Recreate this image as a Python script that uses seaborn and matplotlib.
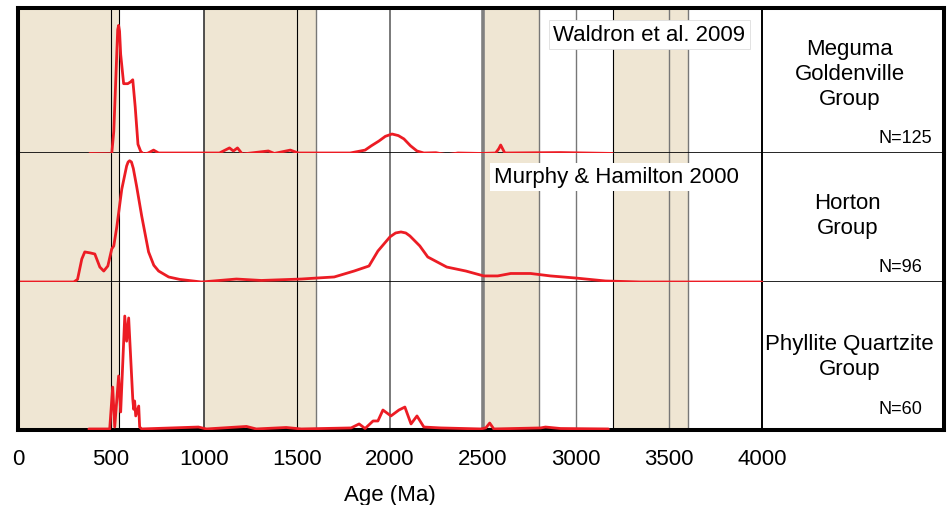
import matplotlib
matplotlib.use("Agg")
import matplotlib.pyplot as plt
import seaborn as sns
import pandas as pd

# relative probability curves (age in Ma, height as fraction of the panel)
meguma_age = [386, 504, 515, 527, 536, 541, 546, 552, 568, 590, 605, 617, 630, 645,
              660, 676, 700, 729, 756, 1083, 1137, 1158, 1180, 1206, 1346, 1378,
              1464, 1507, 1786, 1866, 1900, 1941, 1975, 2011, 2045, 2075, 2110,
              2145, 2182, 2247, 2306, 2365, 2488, 2568, 2585, 2595, 2605, 2617,
              2917, 3196]
meguma_prob = [-0.003, -0.005, 0.15, 0.55, 0.85, 0.88, 0.84, 0.68, 0.478, 0.478,
               0.49, 0.505, 0.32, 0.06, 0.01, -0.007, 0.0, 0.02, 0.0, 0.0, 0.035,
               0.014, 0.035, -0.007, 0.014, -0.003, 0.02, 0.0, 0.0, 0.02, 0.05,
               0.083, 0.115, 0.131, 0.12, 0.097, 0.05, 0.014, 0.0, 0.002, -0.012,
               0.0, -0.003, 0.0, 0.03, 0.055, 0.03, 0.0, 0.003, -0.003]

horton_age = [0, 300, 320, 343, 359, 390, 413, 440, 461, 483, 504, 515, 531, 558,
              584, 592, 600, 610, 620, 638, 665, 702, 730, 756, 810, 870, 987,
              1174, 1308, 1523, 1609, 1700, 1807, 1887, 1935, 2000, 2030, 2059,
              2085, 2107, 2160, 2203, 2305, 2408, 2504, 2579, 2649, 2756, 2863,
              2997, 3158, 3346, 4000]
horton_prob = [0.0, 0.0, 0.02, 0.178, 0.233, 0.225, 0.217, 0.116, 0.085, 0.124,
               0.256, 0.28, 0.426, 0.72, 0.899, 0.93, 0.94, 0.93, 0.88, 0.74,
               0.512, 0.233, 0.13, 0.085, 0.039, 0.02, 0.0, 0.023, 0.012, 0.023,
               0.031, 0.039, 0.085, 0.124, 0.24, 0.35, 0.38, 0.388, 0.38, 0.357,
               0.28, 0.194, 0.116, 0.085, 0.047, 0.047, 0.066, 0.066, 0.047,
               0.031, 0.008, 0.0, 0.0]

phyllite_age = [381, 493, 509, 520, 541, 552, 574, 584, 595, 617, 622, 627, 633,
                649, 654, 665, 970, 1013, 1228, 1281, 1442, 1523, 1791, 1834, 1866,
                1909, 1935, 1962, 2005, 2048, 2080, 2113, 2145, 2182, 2273, 2488,
                2515, 2536, 2558, 2810, 2836, 2917, 3174]
phyllite_prob = [0.007, 0.007, 0.29, 0.02, 0.365, 0.122, 0.77, 0.60, 0.757, 0.21,
                 0.14, 0.196, 0.095, 0.162, 0.02, 0.007, 0.02, 0.007, 0.024, 0.007,
                 0.017, 0.007, 0.014, 0.041, 0.01, 0.061, 0.061, 0.135, 0.095,
                 0.135, 0.155, 0.041, 0.095, 0.02, 0.014, 0.007, 0.014, 0.047,
                 0.007, 0.014, 0.02, 0.01, 0.007]

groups = ["Meguma\nGoldenville\nGroup", "Horton\nGroup", "Phyllite Quartzite\nGroup"]
counts = ["N=125", "N=96", "N=60"]

# shaded time intervals and boundary lines (Ma)
bands = [(0, 541), (1000, 1600), (2500, 2800), (3200, 3600)]
boundaries = [500, 541, 1000, 1500, 1600, 2000, 2500, 2800, 3000, 3200, 3500, 3600]
tick_ages = [0, 500, 1000, 1500, 2000, 2500, 3000, 3500, 4000]

sns.set_style("white")
plt.rcParams['font.family'] = ['Liberation Sans', 'DejaVu Sans']
plt.rcParams['text.color'] = 'black'
plt.rcParams['xtick.color'] = 'black'
plt.rcParams['axes.labelcolor'] = 'black'

fig = plt.figure(figsize=(9.51, 5.06), dpi=100)
gs = fig.add_gridspec(3, 1, height_ratios=[145, 129, 148], hspace=0,
                      left=18/951, right=944/951, top=1-9/506, bottom=1-431/506)
axes = [fig.add_subplot(gs[i]) for i in range(3)]

curves = [(meguma_age, meguma_prob), (horton_age, horton_prob),
          (phyllite_age, phyllite_prob)]
xmax = (944 - 18) / 0.186

line_styles = {500: ('black', 0.8), 541: ('black', 0.8), 1000: ('#333333', 1.2),
               1500: ('black', 0.8), 1600: ('#777777', 1.0), 2000: ('#555555', 1.1),
               2500: ('#808080', 2.6), 2800: ('#777777', 1.0), 3000: ('#777777', 1.0),
               3200: ('black', 0.8), 3500: ('#777777', 1.0), 3600: ('#777777', 1.0)}

for i, ax in enumerate(axes):
    for a, b in bands:
        ax.axvspan(a, b, color='#EFE6D3', lw=0, zorder=0)
    for age in boundaries:
        c, w = line_styles[age]
        ax.axvline(age, color=c, lw=w, zorder=1)
    ax.axvline(4000, color='black', lw=1.4, zorder=1)

    df = pd.DataFrame({'age': curves[i][0], 'prob': curves[i][1]})
    sns.lineplot(data=df, x='age', y='prob', ax=ax, color='#EC1C24', lw=2.0,
                 estimator=None, zorder=3, solid_joinstyle='round')

    ax.set_xlim(0, xmax)
    ax.set_ylim(0, 1)
    ax.set_yticks([])
    ax.set_ylabel('')
    ax.set_xlabel('')
    for s in ax.spines.values():
        s.set_color('black')
        s.set_linewidth(2.9)
    if i > 0:
        ax.spines['top'].set_visible(False)
    if i < 2:
        ax.spines['bottom'].set_linewidth(1.2)
        ax.set_xticks([])

# right hand labels
axes[0].text(4472, 0.547, groups[0], ha='center', va='center', fontsize=16,
             linespacing=1.25)
axes[1].text(4461, 0.523, groups[1], ha='center', va='center', fontsize=16,
             linespacing=1.25)
axes[2].text(4472, 0.503, groups[2], ha='center', va='center', fontsize=16,
             linespacing=1.25)
axes[0].text(4912, 0.11, counts[0], ha='right', va='center', fontsize=13)
axes[1].text(4863, 0.124, counts[1], ha='right', va='center', fontsize=13)
axes[2].text(4863, 0.142, counts[2], ha='right', va='center', fontsize=13)

# source labels
axes[0].text(2879, 0.817, "Waldron et al. 2009", ha='left', va='center', fontsize=16,
             zorder=4, bbox=dict(facecolor='white', edgecolor='#dddddd', lw=0.6,
                                 boxstyle='square,pad=0.2'))
axes[1].text(2558, 0.814, "Murphy & Hamilton 2000", ha='left', va='center',
             fontsize=16, zorder=4,
             bbox=dict(facecolor='white', edgecolor='none', boxstyle='square,pad=0.15'))

ax = axes[2]
ax.set_xticks(tick_ages)
ax.set_xticklabels([str(t) for t in tick_ages])
ax.tick_params(axis='x', length=0, pad=13, labelsize=16)
ax.set_xlabel('Age (Ma)', fontsize=16)
ax.xaxis.set_label_coords((390 - 18) / 926, -0.365)

fig.savefig('out.png', dpi=100)
